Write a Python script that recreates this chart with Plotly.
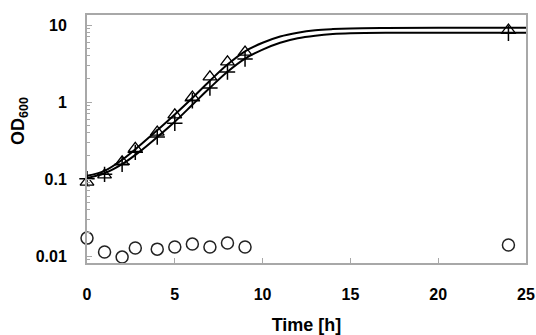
import plotly.graph_objects as go

# sample times (h)
times = [0, 1, 2, 2.75, 4, 5, 6, 7, 8, 9, 24]
od_triangle = [0.091, 0.113, 0.167, 0.25, 0.407, 0.68, 1.16, 2.12, 3.32, 4.45, 8.6]
od_cross = [0.101, 0.115, 0.156, 0.222, 0.351, 0.531, 1.04, 1.52, 2.45, 3.62, 7.8]
od_circle = [0.0171, 0.0113, 0.0097, 0.0127, 0.0123, 0.0131, 0.0143, 0.0131, 0.0148, 0.0131, 0.0139]

# fitted curves
fit_t = [0, 1, 2, 3, 4, 5, 6, 7, 8, 9, 10, 11, 12, 13, 14, 15, 17, 20, 25]
fit_upper = [0.110, 0.128, 0.178, 0.272, 0.43, 0.69, 1.13, 1.89, 3.07, 4.56, 5.89, 7.1, 7.95, 8.55, 8.86, 9.04, 9.16, 9.22, 9.22]
fit_lower = [0.103, 0.119, 0.156, 0.227, 0.351, 0.555, 0.92, 1.53, 2.47, 3.66, 4.8, 5.89, 6.73, 7.27, 7.64, 7.82, 7.94, 7.96, 7.96]

x_ticks = [0, 5, 10, 15, 20, 25]
y_ticks = [0.01, 0.1, 1, 10]
y_tick_text = ["0.01", "0.1", "1", "10"]

FONT = "Liberation Sans, Arial, sans-serif"
AX = "#a8a8a8"

fig = go.Figure()
fig.add_trace(go.Scatter(x=fit_t, y=fit_upper, mode="lines", line=dict(color="black", width=2, shape="spline"), showlegend=False))
fig.add_trace(go.Scatter(x=fit_t, y=fit_lower, mode="lines", line=dict(color="black", width=2, shape="spline"), showlegend=False))
fig.add_trace(go.Scatter(x=times, y=od_triangle, mode="markers", cliponaxis=False,
                         marker=dict(symbol="triangle-up-open", size=12, color="black", line=dict(width=1.3)), showlegend=False))
fig.add_trace(go.Scatter(x=times, y=od_cross, mode="markers", cliponaxis=False,
                         marker=dict(symbol="cross-thin-open", size=11, color="black", line=dict(width=1.5)), showlegend=False))
fig.add_trace(go.Scatter(x=times, y=od_circle, mode="markers", cliponaxis=False,
                         marker=dict(symbol="circle-open", size=12, color="#222", line=dict(width=1.5)), showlegend=False))

fig.update_layout(
    width=536, height=335,
    margin=dict(l=87, r=10, t=15, b=72, autoexpand=False),
    paper_bgcolor="white", plot_bgcolor="white",
    font=dict(family=FONT, color="black", size=16),
    xaxis=dict(range=[0, 25], tickvals=x_ticks, ticktext=[f"<b>{v}</b>" for v in x_ticks],
               ticks="inside", ticklen=5, tickcolor=AX, showline=True, linecolor=AX, linewidth=2,
               mirror=True, showgrid=False, zeroline=False, ticklabelstandoff=16, automargin=False,
               title=dict(text="<b>Time [h]</b>", font=dict(size=18), standoff=16)),
    yaxis=dict(type="log", range=[-2.09, 1.13], tickvals=y_ticks, ticktext=[f"<b>{t}</b>" for t in y_tick_text],
               ticks="inside", ticklen=5, tickcolor=AX, showline=True, linecolor=AX, linewidth=2,
               mirror=True, showgrid=False, zeroline=False, ticklabelstandoff=15, automargin=False,
               minor=dict(ticks="inside", ticklen=3, tickcolor=AX, dtick="D1", showgrid=False)),
    annotations=[dict(text="<b>OD<sub>600</sub></b>", textangle=-90, xref="paper", yref="paper",
                      x=0, y=0.573, xshift=-67, showarrow=False, font=dict(size=18),
                      xanchor="center", yanchor="middle")],
)

fig.write_html("out.html", config={"displayModeBar": False},
               post_script="document.body.style.margin='0';")
